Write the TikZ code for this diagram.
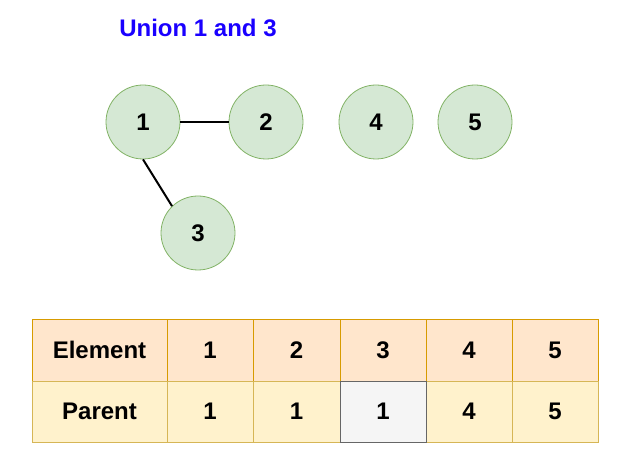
\documentclass[tikz,border=0pt]{standalone}
\usepackage{fontspec}
\setmainfont{Liberation Sans}
\definecolor{cfill}{HTML}{D5E8D4}
\definecolor{cdraw}{HTML}{82B366}
\definecolor{efill}{HTML}{FFE6CC}
\definecolor{edraw}{HTML}{D79B00}
\definecolor{pfill}{HTML}{FFF2CC}
\definecolor{pdraw}{HTML}{D6B656}
\definecolor{gfill}{HTML}{F5F5F5}
\definecolor{gdraw}{HTML}{666666}
\definecolor{ttl}{HTML}{1A00FF}
\begin{document}
\begin{tikzpicture}[x=1pt,y=1pt,
  vert/.style={circle,draw=cdraw,fill=cfill,line width=0.8pt,minimum size=74pt,inner sep=0pt,font=\fontsize{24}{28}\selectfont\bfseries},
  edge/.style={line width=2pt,black},
  ecell/.style={draw=edraw,fill=efill,line width=0.8pt},
  pcell/.style={draw=pdraw,fill=pfill,line width=0.8pt},
  gcell/.style={draw=gdraw,fill=gfill,line width=0.8pt},
  lbl/.style={font=\fontsize{24}{28}\selectfont\bfseries,inner sep=0pt}]
\useasboundingbox (0,0) rectangle (619,461);
\node[font=\fontsize{24}{28}\selectfont\bfseries,text=ttl] (title) at (198,433) {Union 1 and 3};
\node[vert] (n1) at (143,339) {1};
\node[vert] (n2) at (266,339) {2};
\node[vert] (n4) at (376,339) {4};
\node[vert] (n5) at (475,339) {5};
\node[vert] (n3) at (198,228) {3};
\draw[edge] (n1.east) -- (n2.west);
\draw[edge] (n1.south) -- (n3.134);
% table
\foreach \xa/\xb/\t [count=\i] in {32/167/Element,167/253/1,253/340/2,340/426/3,426/512/4,512/598/5}{
  \path[ecell] (\xa,80) rectangle (\xb,142);
  \node[lbl] (e\i) at ({(\xa+\xb)/2},111) {\t};
}
\foreach \xa/\xb in {32/167,167/253,253/340,426/512,512/598}{
  \path[pcell] (\xa,19) rectangle (\xb,80);
}
\path[gcell] (340,19) rectangle (426,80);
\node[lbl] (p1) at (99.5,49.5) {Parent};
\node[lbl] (p2) at (210,49.5) {1};
\node[lbl] (p3) at (296.5,49.5) {1};
\node[lbl] (p4) at (383,49.5) {1};
\node[lbl] (p5) at (469,49.5) {4};
\node[lbl] (p6) at (555,49.5) {5};
\end{tikzpicture}
\end{document}
